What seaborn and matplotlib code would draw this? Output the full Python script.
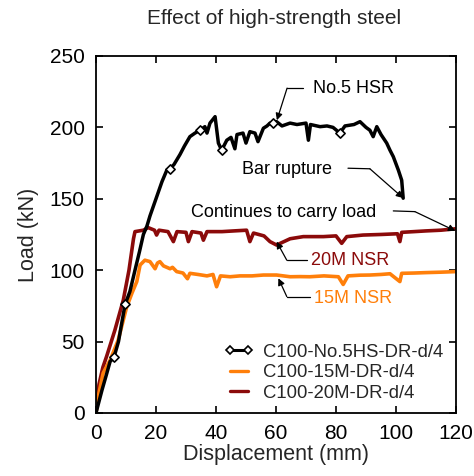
import matplotlib
matplotlib.use("Agg")
import matplotlib.pyplot as plt
import seaborn as sns
import pandas as pd
from matplotlib.lines import Line2D

# ---------------- data ----------------
hs_disp = [0, 1, 2, 3.5, 4.7, 6.0, 7.5, 8.5, 9.7, 11.3, 13, 14.5, 15.8, 17, 18, 20, 22, 23.6,
           24.7, 26, 28, 29.5, 31.3, 33, 34.7, 36.3, 37, 38, 39.7, 40.8, 41.9, 43.6, 45,
           46.3, 47, 49, 50, 51.3, 53, 54, 55.8, 57, 58, 59, 60.2, 62, 64.7, 67, 70, 70.8,
           71.5, 74.7, 77, 79, 81.3, 83, 86, 88, 90, 91.3, 92.4, 93.6, 95, 96.9, 98, 99.1,
           100.8, 101.9, 102.4]
hs_load = [0, 8, 16, 27, 36, 39, 50, 62, 76, 85, 100, 113, 125, 131, 138, 150, 162, 170,
           171, 174, 181, 187, 193.5, 196, 198, 200.5, 196, 203, 207.5, 189, 184, 191, 193,
           185, 195, 196, 189, 197, 196, 190, 199.4, 201, 203, 203, 204, 201, 203, 202, 203, 191,
           202, 200.5, 201, 200, 196, 201, 202, 204, 200, 198, 193.5, 200.5, 195, 189, 184, 179.5,
           170, 163, 150.4]
hs_marker_idx = [5, 8, 18, 24, 30, 43, 54]

m15_disp = [0, 1, 2.4, 4.7, 7.4, 10.2, 12, 13.6, 14.7, 16.3, 18, 19.7, 20.5, 21.3, 22.5,
            24.7, 25.5, 26.9, 29, 30.5, 31.3, 34, 37, 39, 40.2, 41.5, 44.7, 48, 52, 55.8, 58,
            60.2, 64.7, 68, 71.3, 76, 80.8, 82.4, 84, 88, 91.3, 95, 98, 101.3, 101.9, 106,
            110, 115, 120]
m15_load = [0, 14, 28, 37, 51, 74, 84, 92, 103.6, 107, 106, 101, 105, 106, 103,
            101, 102, 99, 98, 94, 97.8, 97, 96, 97, 88.4, 96, 95.4, 96, 96, 96.6, 96.6,
            96.6, 95.4, 95.5, 95.4, 96, 95.4, 90, 96, 96.5, 96.6, 97, 97.5, 92, 97.8, 98,
            98.3, 98.6, 99]

m20_disp = [0, 1, 2.3, 3.6, 6.3, 9.1, 11, 12.5, 13, 15.8, 17.4, 19.5, 20.2, 21, 24,
            25.8, 27, 30, 30.8, 32, 35, 35.8, 37, 42, 46, 50.2, 51.3, 52.5, 56, 58, 60.2,
            64.7, 69.1, 75.8, 80, 81.9, 83.6, 89, 95, 100.5, 101.3, 101.9, 106, 110, 115, 120]
m20_load = [0, 20, 32, 40, 58, 79, 100, 122, 127, 128, 129.8, 128, 124.6, 128, 127,
            120, 127, 126.5, 120, 127, 126, 121, 127, 127, 127.5, 128, 120, 126, 124, 120, 117.6,
            122, 123.5, 123.5, 124, 118.8, 123.5, 124.6, 125, 125.5, 120, 126.5, 127, 127.5, 128, 129]

labels = ["C100-No.5HS-DR-d/4", "C100-15M-DR-d/4", "C100-20M-DR-d/4"]

# ---------------- plot ----------------
sns.set_theme(style="ticks")
plt.rcParams['font.family'] = ['Liberation Sans', 'DejaVu Sans']

fig = plt.figure(figsize=(4.74, 4.76), dpi=100)
ax = fig.add_axes([0.2025, 0.1324, 0.7595, 0.75])

c_or = "#FF7F0A"
c_mr = "#8B0A0A"

df_hs = pd.DataFrame({"x": hs_disp, "y": hs_load})
df_15 = pd.DataFrame({"x": m15_disp, "y": m15_load})
df_20 = pd.DataFrame({"x": m20_disp, "y": m20_load})

sns.lineplot(data=df_20, x="x", y="y", color=c_mr, lw=2.6, sort=False, estimator=None, ax=ax)
sns.lineplot(data=df_15, x="x", y="y", color=c_or, lw=2.6, sort=False, estimator=None, ax=ax)
sns.lineplot(data=df_hs, x="x", y="y", color="black", lw=2.5, sort=False, estimator=None, ax=ax)
sns.scatterplot(data=df_hs.iloc[hs_marker_idx], x="x", y="y", marker="D", s=22,
                facecolor="white", edgecolor="black", linewidth=1.2, zorder=5, ax=ax)

ax.set_xlim(0, 120)
ax.set_ylim(0, 250)
ax.set_xticks(range(0, 121, 20))
ax.set_yticks(range(0, 251, 50))
ax.tick_params(direction="in", top=True, right=True, length=5, width=1.2,
               labelsize=15, colors="black", pad=8)
for s in ax.spines.values():
    s.set_linewidth(1.3)
    s.set_color("black")
ax.set_xlabel("Displacement (mm)", fontsize=15.5, labelpad=1)
ax.set_ylabel("Load (kN)", fontsize=15.5, labelpad=8)
fig.text(0.578, 0.962, "Effect of high-strength steel", ha="center", va="center", fontsize=15)

arrow_kw = dict(arrowstyle="-|>", color="black", lw=0.9, mutation_scale=10, shrinkA=0, shrinkB=0)

def callout(text, tx, ty, start, corner, target, color="black"):
    ax.text(tx, ty, text, ha="center", va="center", fontsize=13, color=color)
    ax.plot([start[0], corner[0]], [start[1], corner[1]], color="black", lw=0.9)
    ax.annotate("", xy=target, xytext=corner, arrowprops=arrow_kw)

callout("No.5 HSR", 86.0, 227.5, (69.0, 227.5), (63.7, 227.5), (60.3, 205))
callout("Bar rupture", 63.6, 170.2, (84.0, 171.4), (91.3, 171.0), (102.4, 150.5))
callout("Continues to carry load", 62.4, 140.5, (99.1, 141.5), (106.3, 141.0), (119.8, 127.5))
callout("20M NSR", 84.7, 107, (70.2, 107), (63.6, 107), (60.2, 120), color=c_mr)
callout("15M NSR", 85.8, 80.3, (71.3, 81.5), (63.6, 81.5), (60.8, 94.3), color=c_or)

handles = [
    Line2D([0, 1], [0, 0], color="black", lw=2.2, marker="D", markersize=4.5,
           markerfacecolor="white", markeredgecolor="black", markeredgewidth=1.2),
    Line2D([0, 1], [0, 0], color=c_or, lw=2.4),
    Line2D([0, 1], [0, 0], color=c_mr, lw=2.4),
]
ax.legend(handles, labels, loc="lower right", bbox_to_anchor=(0.995, 0.0), frameon=False,
          fontsize=13.3, numpoints=2, handlelength=1.6, handletextpad=0.5, labelspacing=0.2,
          borderaxespad=0.2)

fig.savefig("out.png", dpi=100)
